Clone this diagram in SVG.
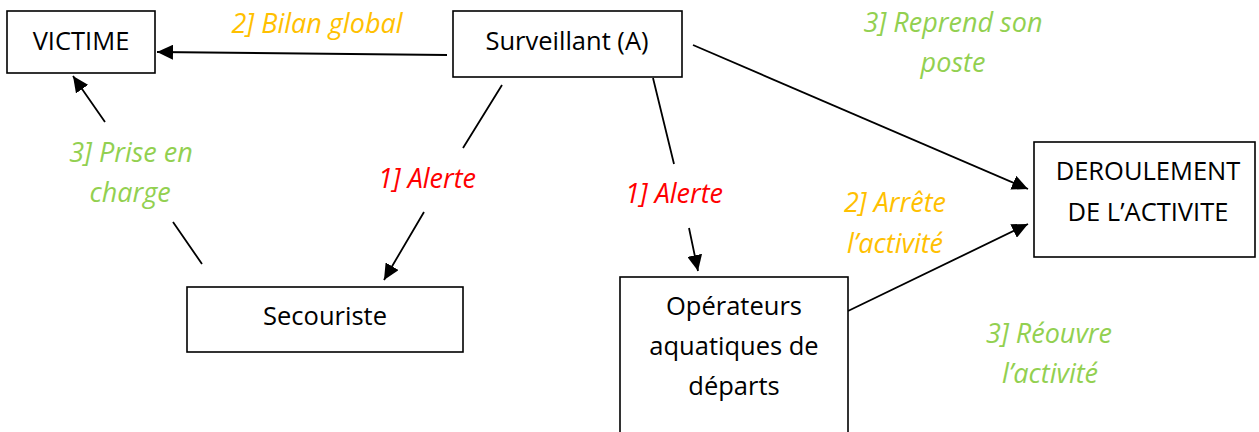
<svg xmlns="http://www.w3.org/2000/svg" width="1259" height="432" viewBox="0 0 1259 432">
<style>
.box{fill:#fff;stroke:#000;stroke-width:1.6}
.t{font-family:"Open Sans","Liberation Sans",sans-serif;font-size:25.5px;fill:#000;text-anchor:middle}
.l{font-family:"Open Sans","Liberation Sans",sans-serif;font-size:27px;font-style:italic;text-anchor:middle}
.red{fill:#FF0000}.org{fill:#FFC000}.grn{fill:#92D050}
.c{fill:none;stroke:#000;stroke-width:1.8}
</style>
<defs>
<marker id="ah" markerUnits="userSpaceOnUse" markerWidth="17" markerHeight="15" refX="16" refY="7.5" orient="auto"><path d="M0,0 L16,7.5 L0,15 z" fill="#000"/></marker>
</defs>
<rect width="1259" height="432" fill="#fff"/>
<g id="connectors">
<path class="c" d="M447,55 L157,52" marker-end="url(#ah)"/>
<path class="c" d="M202,264 L173,222 M105,122 L73,76" marker-end="url(#ah)"/>
<path class="c" d="M502,85 L463,148 M424,212 L384,280" marker-end="url(#ah)"/>
<path class="c" d="M653,78 L674,164 M689,228 L698,271" marker-end="url(#ah)"/>
<path class="c" d="M693,45 L1028,189" marker-end="url(#ah)"/>
<path class="c" d="M848,311 L1028,224" marker-end="url(#ah)"/>
</g>
<g id="victime"><rect class="box" x="7" y="11" width="148" height="62"/><text class="t" x="81" y="50">VICTIME</text></g>
<g id="surveillant"><rect class="box" x="453" y="11" width="229" height="66"/><text class="t" x="567" y="50">Surveillant (A)</text></g>
<g id="secouriste"><rect class="box" x="187" y="287" width="276" height="65"/><text class="t" x="325" y="325">Secouriste</text></g>
<g id="operateurs"><rect class="box" x="620" y="277" width="228" height="170"/><text class="t" x="734" y="315">Opérateurs</text><text class="t" x="734" y="355">aquatiques de</text><text class="t" x="734" y="395">départs</text></g>
<g id="deroulement"><rect class="box" x="1034" y="142" width="221" height="115"/><text class="t" x="1148" y="180">DEROULEMENT</text><text class="t" x="1148" y="221">DE L’ACTIVITE</text></g>
<g id="labels">
<text class="l org" x="317" y="33">2] Bilan global</text>
<text class="l grn" x="131" y="162">3] Prise en</text>
<text class="l grn" x="130" y="202">charge</text>
<text class="l red" x="427" y="188">1] Alerte</text>
<text class="l red" x="674" y="203">1] Alerte</text>
<text class="l grn" x="953" y="32">3] Reprend son</text>
<text class="l grn" x="953" y="72">poste</text>
<text class="l org" x="895" y="212">2] Arrête</text>
<text class="l org" x="895" y="253">l’activité</text>
<text class="l grn" x="1049" y="343">3] Réouvre</text>
<text class="l grn" x="1050" y="383">l’activité</text>
</g>
</svg>
